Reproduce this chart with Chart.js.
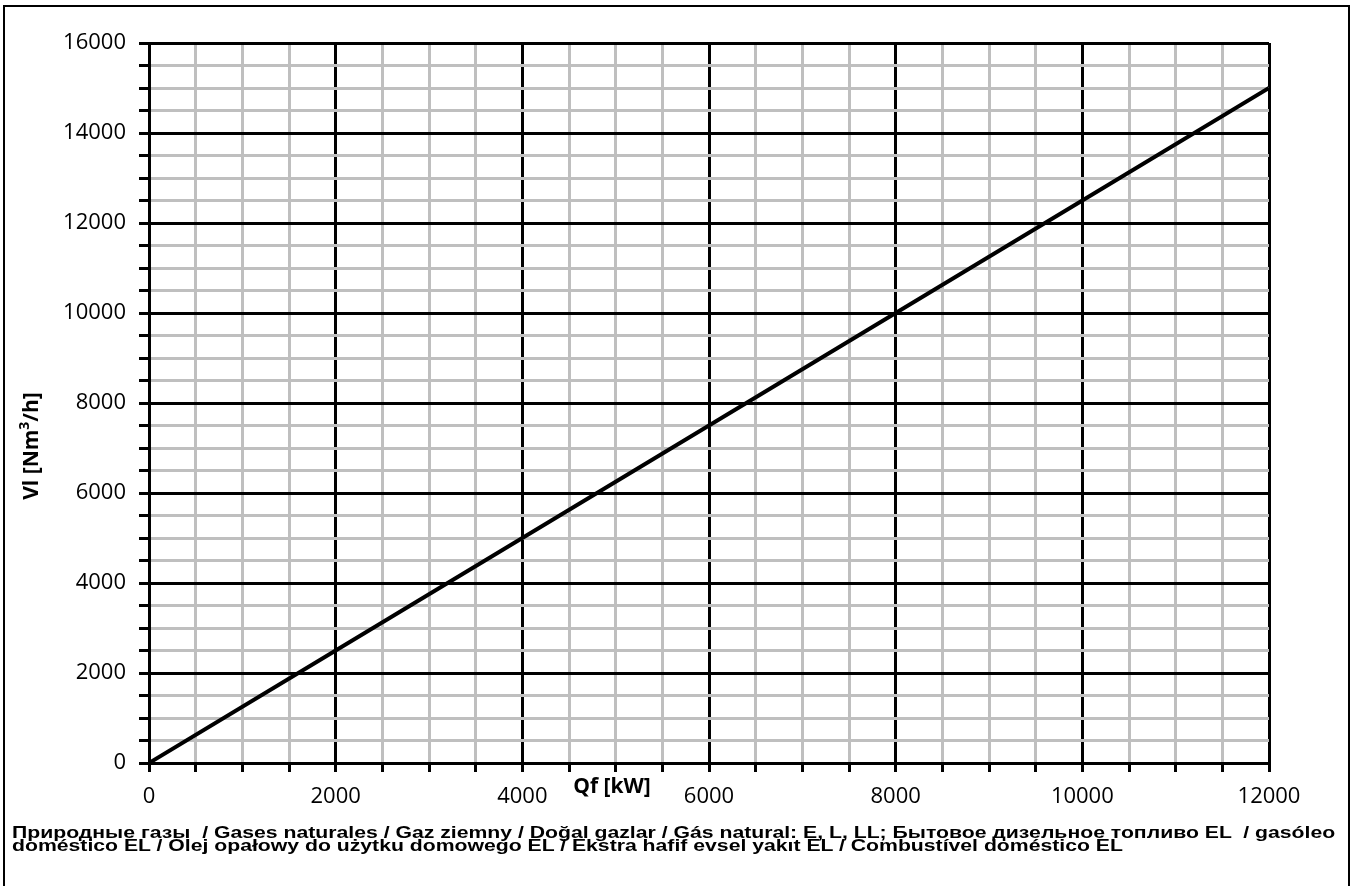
<!DOCTYPE html>
<html>
<head>
<meta charset="utf-8">
<script src="https://cdn.jsdelivr.net/npm/chart.js@4/dist/chart.umd.min.js"></script>
<style>
  html, body { margin: 0; padding: 0; background: #fff; }
  body { width: 1354px; height: 886px; position: relative; overflow: hidden; }
  #frame {
    position: absolute; left: 3px; top: 5px; width: 1343px; height: 900px;
    border: 2px solid #000; box-sizing: content-box;
  }
  #chart { position: absolute; left: 0; top: 0; }
  #caption {
    position: absolute; left: 12px; top: 827px;
    font: bold 16px "Liberation Sans", Arial, sans-serif; line-height: 12.5px; color: #000;
    white-space: nowrap;
    transform: scaleX(1.325); transform-origin: 0 0;
  }
</style>
</head>
<body>
<div id="frame"></div>
<canvas id="chart" width="1354" height="886"></canvas>
<div id="caption">Природные газы &nbsp;/ Gases naturales / Gaz ziemny / Doğal gazlar / Gás natural: E, L, LL; Бытовое дизельное топливо EL &nbsp;/ gasóleo<br>doméstico EL / Olej opałowy do użytku domowego EL / Ekstra hafif evsel yakıt EL / Combustível doméstico EL</div>
<script>
  // Qf [kW] against Vl [Nm3/h]
  const heatOutput = [0, 2000, 4000, 6000, 8000, 10000, 12000]
  const volumeFlow = [0, 2500, 5000, 7500, 10000, 12500, 15000]

  const xMax = 12000
  const yMax = 16000
  const minorStep = 500
  const labelStep = 2000

  const tickFont = { family: "'Open Sans', sans-serif", size: 22 }

  const gridColor = ctx => (ctx.tick && ctx.tick.value % labelStep === 0) ? "#000000" : "#bfbfbf"
  const tickLabel = value => (value % labelStep === 0) ? String(value) : ""

  // axis titles sit outside the normal scale layout, so draw them by hand
  const axisTitles = {
    id: "axisTitles",
    afterDraw(chart) {
      const ctx = chart.ctx
      ctx.save()
      ctx.fillStyle = "#000"
      ctx.font = "bold 21px 'Open Sans', sans-serif"
      ctx.textAlign = "center"
      ctx.textBaseline = "middle"
      ctx.fillText("Qf [kW]", 612, 787)

      // y title with superscript 3
      ctx.translate(30, 446)
      ctx.rotate(-Math.PI / 2)
      const big = "bold 21px 'Open Sans', sans-serif"
      const small = "bold 14px 'Open Sans', sans-serif"
      const partA = "Vl [Nm", partB = "3", partC = "/h]"
      ctx.font = big
      const wA = ctx.measureText(partA).width
      const wC = ctx.measureText(partC).width
      ctx.font = small
      const wB = ctx.measureText(partB).width
      let x = -(wA + wB + wC) / 2
      ctx.textAlign = "left"
      ctx.textBaseline = "alphabetic"
      ctx.font = big
      ctx.fillText(partA, x, 8)
      x += wA
      ctx.font = small
      ctx.fillText(partB, x, -1)
      x += wB
      ctx.font = big
      ctx.fillText(partC, x, 8)
      ctx.restore()
    }
  }

  new Chart(document.getElementById("chart"), {
    type: "line",
    data: {
      datasets: [{
        data: heatOutput.map((q, i) => ({ x: q, y: volumeFlow[i] })),
        borderColor: "#000000",
        borderWidth: 4,
        pointRadius: 0,
        tension: 0,
        fill: false
      }]
    },
    options: {
      responsive: false,
      animation: false,
      devicePixelRatio: 1,
      layout: { padding: { top: 43, right: 85, bottom: 0, left: 0 } },
      plugins: {
        legend: { display: false },
        tooltip: { enabled: false }
      },
      scales: {
        x: {
          type: "linear",
          min: 0,
          max: xMax,
          afterFit: scale => { scale.height = 123 },
          grid: {
            color: gridColor,
            lineWidth: 3,
            drawTicks: true,
            tickLength: 9,
            tickColor: "#000000",
            tickWidth: 3
          },
          border: { color: "#000000", width: 3 },
          ticks: {
            stepSize: minorStep,
            autoSkip: false,
            maxRotation: 0,
            color: "#000000",
            font: tickFont,
            padding: 12,
            callback: tickLabel
          }
        },
        y: {
          type: "linear",
          min: 0,
          max: yMax,
          afterFit: scale => { scale.width = 149 },
          grid: {
            color: gridColor,
            lineWidth: 3,
            drawTicks: true,
            tickLength: 10,
            tickColor: "#000000",
            tickWidth: 3
          },
          border: { color: "#000000", width: 3 },
          ticks: {
            stepSize: minorStep,
            autoSkip: false,
            color: "#000000",
            font: tickFont,
            padding: 13,
            callback: tickLabel
          }
        }
      }
    },
    plugins: [axisTitles]
  })
</script>
</body>
</html>
